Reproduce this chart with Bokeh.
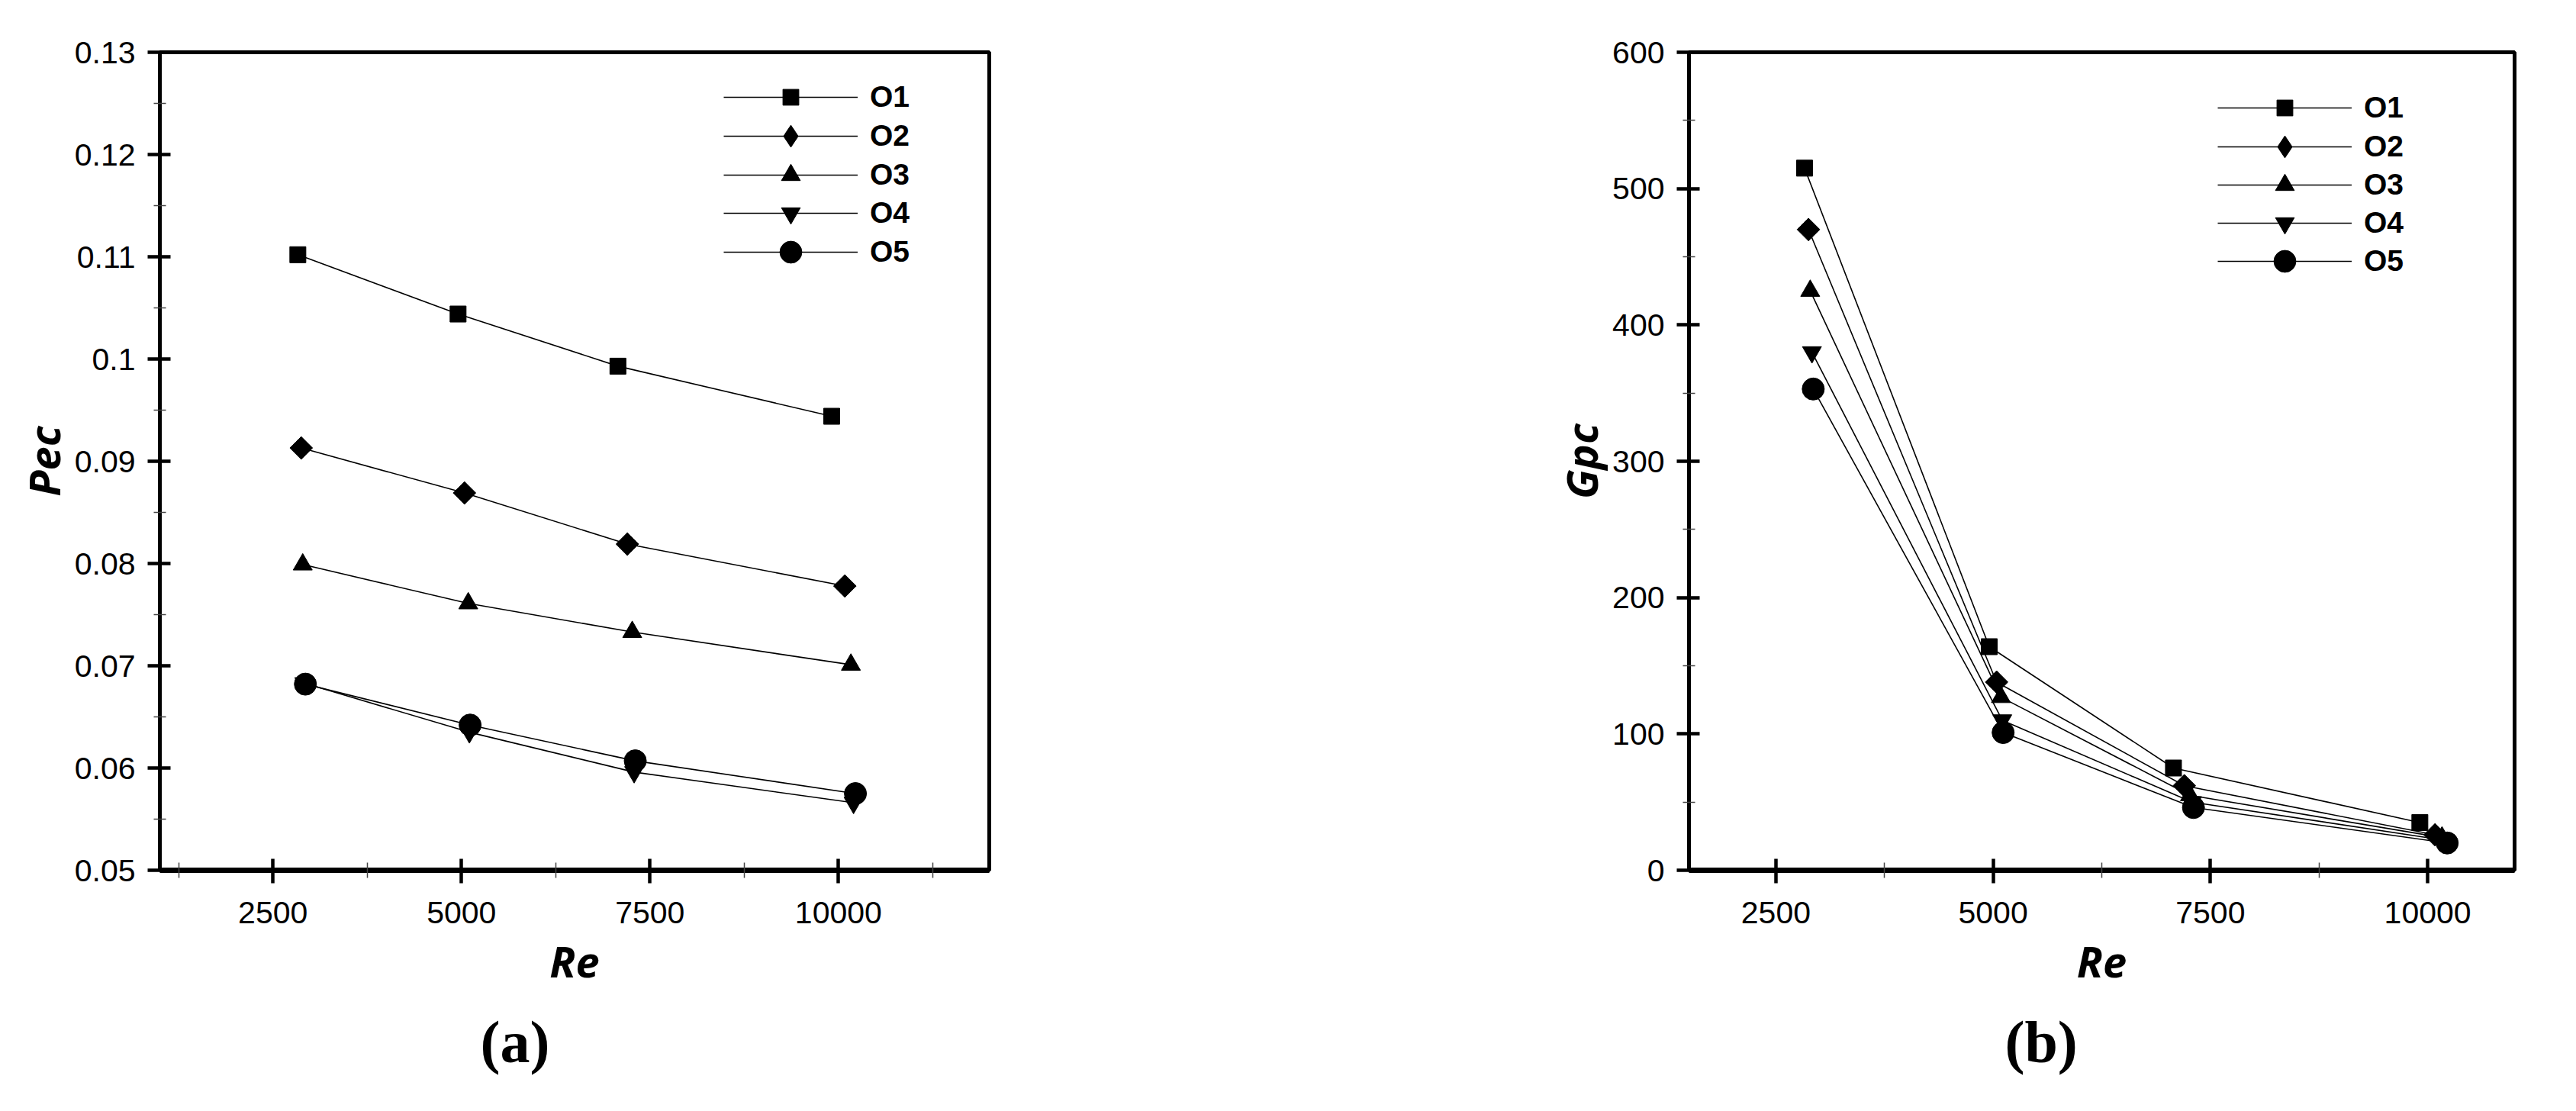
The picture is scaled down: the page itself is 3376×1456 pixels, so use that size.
import math
from bokeh.plotting import figure
from bokeh.layouts import row
from bokeh.models import FixedTicker, Legend, LegendItem, Title, Range1d
from bokeh.embed import file_html
from bokeh.resources import INLINE

# ---------------- data ----------------
series = ["O1", "O2", "O3", "O4", "O5"]

re_o1 = [2830, 4955, 7075, 9910]
re_o2 = [2875, 5040, 7200, 10085]
re_o3 = [2895, 5090, 7265, 10165]
re_o4 = [2915, 5105, 7290, 10200]
re_o5 = [2930, 5115, 7305, 10225]

pec_o1 = [0.1102, 0.1044, 0.0993, 0.0944]
pec_o2 = [0.0913, 0.0869, 0.0819, 0.0778]
pec_o3 = [0.0799, 0.0761, 0.0733, 0.0701]
pec_o4 = [0.0683, 0.0635, 0.0596, 0.0566]
pec_o5 = [0.0682, 0.0642, 0.0607, 0.0575]

gpc_o1 = [515, 164, 75, 35]
gpc_o2 = [470, 138, 62, 26]
gpc_o3 = [425, 127, 55, 24]
gpc_o4 = [380, 110, 50, 22]
gpc_o5 = [353, 101, 46, 20]

x_ticks_a = [2500, 5000, 7500, 10000]
x_minor_a = [1250, 3750, 6250, 8750, 11250]
y_ticks_a = [0.05, 0.06, 0.07, 0.08, 0.09, 0.1, 0.11, 0.12, 0.13]
y_tick_labels_a = ["0.05", "0.06", "0.07", "0.08", "0.09", "0.1", "0.11", "0.12", "0.13"]
y_minor_a = [0.055, 0.065, 0.075, 0.085, 0.095, 0.105, 0.115, 0.125]

x_ticks_b = [2500, 5000, 7500, 10000]
x_minor_b = [3750, 6250, 8750]
y_ticks_b = [0, 100, 200, 300, 400, 500, 600]
y_minor_b = [50, 150, 250, 350, 450, 550]

re_all = [re_o1, re_o2, re_o3, re_o4, re_o5]
pec_all = [pec_o1, pec_o2, pec_o3, pec_o4, pec_o5]
gpc_all = [gpc_o1, gpc_o2, gpc_o3, gpc_o4, gpc_o5]

# ---------------- styles ----------------
markers = ["square", "square", "triangle", "inverted_triangle", "circle"]
angles = [0, math.pi / 4, 0, 0, 0]
msizes = [21, 21, 25, 25, 29]
legend_sizes = [21, 29, 25, 25, 29]
TICK_FONT = "Liberation Sans"
TITLE_FONT = "Open Sans"


def style_axes(p, xt, xm, yt, ym, ylabels, ylab):
    p.xgrid.visible = False
    p.ygrid.visible = False
    p.background_fill_color = "white"
    p.border_fill_color = "white"
    p.outline_line_color = "black"
    p.outline_line_width = 5
    p.xaxis.ticker = FixedTicker(ticks=xt, minor_ticks=xm)
    p.yaxis.ticker = FixedTicker(ticks=yt, minor_ticks=ym)
    p.xaxis.major_label_overrides = {t: str(t) for t in xt}
    if ylabels is not None:
        p.yaxis.major_label_overrides = {t: l for t, l in zip(yt, ylabels)}
    else:
        p.yaxis.major_label_overrides = {t: str(t) for t in yt}
    for ax in (p.xaxis[0], p.yaxis[0]):
        ax.axis_line_color = "black"
        ax.major_tick_line_color = "black"
        ax.major_tick_line_width = 4.5
        ax.minor_tick_line_color = "#444444"
        ax.minor_tick_line_width = 1.5
        ax.major_label_text_font = TICK_FONT
        ax.major_label_text_font_size = "41px"
        ax.major_label_text_color = "black"
        ax.axis_label_text_font = TITLE_FONT
        ax.axis_label_text_font_style = "bold italic"
        ax.axis_label_text_font_size = "56px"
        ax.axis_label_text_color = "black"
    p.xaxis.axis_line_width = 7
    p.yaxis.axis_line_width = 5
    p.xaxis.major_tick_in = 15
    p.xaxis.major_tick_out = 17
    p.xaxis.minor_tick_in = 10
    p.xaxis.minor_tick_out = 10
    p.yaxis.major_tick_in = 14
    p.yaxis.major_tick_out = 16
    p.yaxis.minor_tick_in = 8
    p.yaxis.minor_tick_out = 8
    p.xaxis.major_label_standoff = 24
    p.yaxis.major_label_standoff = 16
    p.xaxis.axis_label = "Re"
    p.yaxis.axis_label = ylab
    p.xaxis.axis_label_standoff = 8
    p.yaxis.axis_label_standoff = 0


def draw_series(p, ys_all, leg_x, leg_rows):
    frame_h = p.height - p.min_border_top - p.min_border_bottom
    for i, name in enumerate(series):
        lr = p.line(re_all[i], ys_all[i], line_color="black", line_width=1.6)
        sr = p.scatter(re_all[i], ys_all[i], marker=markers[i], size=msizes[i],
                       angle=angles[i], fill_color="black", line_color="black")
        legend_glyph = sr
        if i == 1:
            # true diamond drawn on top of the rotated square: gives the legend its diamond
            legend_glyph = p.scatter(re_all[i], ys_all[i], marker="diamond", size=legend_sizes[i],
                                     fill_color="black", line_color="black")
        gh = legend_sizes[i] / 0.4
        vy = frame_h - leg_rows[i] - gh / 2
        leg = Legend(items=[LegendItem(label=name, renderers=[lr, legend_glyph])],
                     location=(leg_x, vy), glyph_width=176, glyph_height=int(round(gh)),
                     label_standoff=16, padding=0, margin=0, spacing=0,
                     border_line_alpha=0, background_fill_alpha=0,
                     label_text_font=TICK_FONT, label_text_font_style="bold",
                     label_text_font_size="39px", label_text_color="black")
        p.add_layout(leg, "center")


def add_panel_label(p, text, offset):
    p.add_layout(Title(text=text, align="left", offset=offset, standoff=40,
                       text_font="Liberation Serif", text_font_size="78px",
                       text_font_style="bold", text_color="black"), "below")


# ---------------- figure (a) ----------------
p1 = figure(width=1660, height=1440, x_range=Range1d(1000, 12000), y_range=Range1d(0.05, 0.13),
            output_backend="svg", toolbar_location=None,
            min_border_left=209, min_border_right=364, min_border_top=61, min_border_bottom=293)
style_axes(p1, x_ticks_a, x_minor_a, y_ticks_a, y_minor_a, y_tick_labels_a, "Pec")
draw_series(p1, pec_all, 739, [73, 124, 175, 225, 276])
add_panel_label(p1, "(a)", 420)

# ---------------- figure (b) ----------------
p2 = figure(width=1700, height=1440, x_range=Range1d(1500, 11000), y_range=Range1d(0, 600),
            output_backend="svg", toolbar_location=None,
            min_border_left=553, min_border_right=65, min_border_top=68, min_border_bottom=300)
style_axes(p2, x_ticks_b, x_minor_b, y_ticks_b, y_minor_b, None, "Gpc")
draw_series(p2, gpc_all, 693, [73, 124, 174, 224, 274])
add_panel_label(p2, "(b)", 414)

layout = row(p1, p2)
open("out.html", "w").write(file_html(layout, INLINE))
